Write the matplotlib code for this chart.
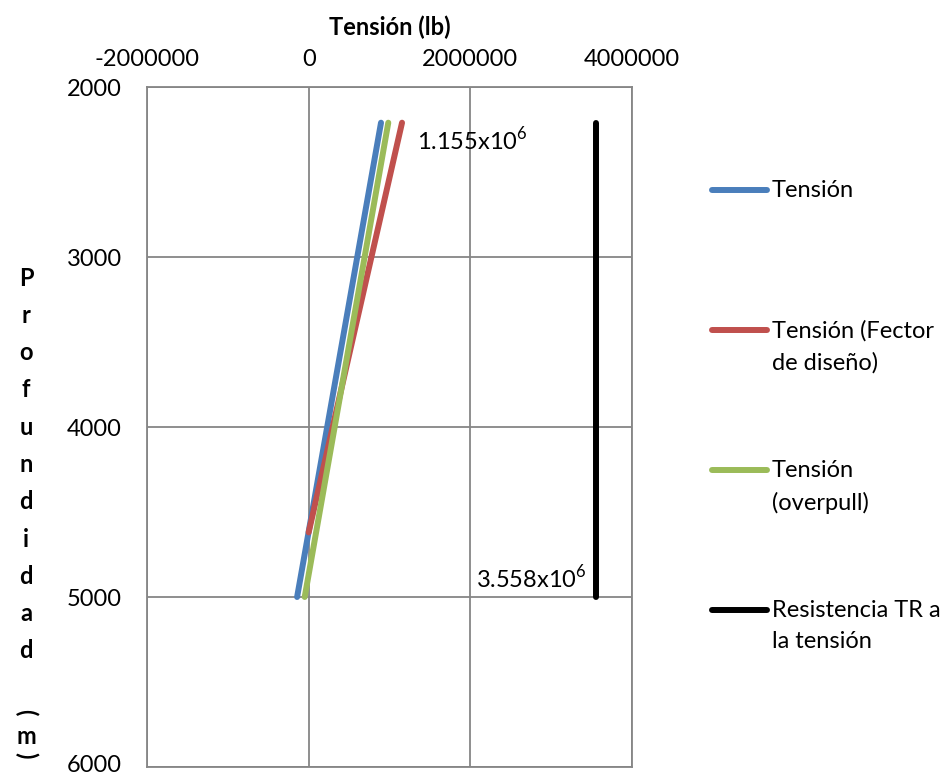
import matplotlib
matplotlib.use("Agg")
import matplotlib.pyplot as plt
import matplotlib.transforms as mtransforms
from matplotlib.lines import Line2D

BLUE, RED, GREEN, BLACK, GRID = "#4A7EBB", "#C0504D", "#9BBB59", "#000000", "#868686"
plt.rcParams.update({"font.family": ["Lato", "DejaVu Sans"], "font.size": 17,
                     "mathtext.fontset": "custom", "mathtext.rm": "Lato"})

# data (depth in m, tension in lb)
tension_x = [-143000, 895000]
tension_y = [5000, 2210]
design_x = [0, 1155000]
design_y = [4620, 2210]
overpull_x = [-49000, 985000]
overpull_y = [5000, 2210]
resist_x = [3558000, 3558000]
resist_y = [5000, 2210]

labels = ["Tensión", "Tensión (Fector\nde diseño)", "Tensión\n(overpull)",
          "Resistencia TR a\nla tensión"]
colors = [BLUE, RED, GREEN, BLACK]
xticks = [-2000000, 0, 2000000, 4000000]
yticks = [2000, 3000, 4000, 5000, 6000]

fig = plt.figure(figsize=(9.46, 7.76), dpi=100)
ax = fig.add_axes([147 / 946, 1 - 767 / 776, (632 - 147) / 946, (767 - 87) / 776])

lw = 4.3
for xs, ys, c in [(tension_x, tension_y, BLUE), (design_x, design_y, RED),
                  (overpull_x, overpull_y, GREEN), (resist_x, resist_y, BLACK)]:
    ax.plot(xs, ys, color=c, lw=lw, solid_capstyle="round", zorder=3)

ax.set_xlim(xticks[0], xticks[-1])
ax.set_ylim(yticks[-1], yticks[0])
ax.set_xticks(xticks)
ax.set_yticks(yticks)
ax.set_xticklabels([str(v) for v in xticks])
ax.xaxis.tick_top()
ax.xaxis.set_label_position("top")
ax.set_xlabel("Tensión (lb)", fontweight="bold", labelpad=10)
ax.tick_params(axis="x", length=0, pad=12)
ax.tick_params(axis="y", length=0, pad=18)
ax.grid(True, color=GRID, lw=1.3)
ax.set_axisbelow(True)
for s in ax.spines.values():
    s.set_color(GRID)
    s.set_linewidth(1.3)

# bottom tick label sits a little higher so it stays inside the picture
lab = ax.get_yticklabels()[-1]
lab.set_transform(lab.get_transform() +
                  mtransforms.ScaledTranslation(0, 4 / 100, fig.dpi_scale_trans))

ax.annotate("1.155x10$^{\\mathrm{6}}$", xy=(design_x[1], design_y[1]),
            xytext=(15, -17), textcoords="offset pixels", ha="left", va="center")
ax.annotate("3.558x10$^{\\mathrm{6}}$", xy=(resist_x[0], resist_y[0]),
            xytext=(-10, 19), textcoords="offset pixels", ha="right", va="center")

# legend, Excel style: handle aligned with first text line
W, H = 946, 776
for i, (lab, c) in enumerate(zip(labels, colors)):
    yy = 190 + 140 * i
    fig.add_artist(Line2D([712 / W, 767 / W], [1 - yy / H] * 2, color=c, lw=lw,
                          solid_capstyle="round"))
    fig.text(772 / W, 1 - (yy - 10) / H, lab, ha="left", va="top", linespacing=1.6)

# stacked y-axis label
letters = list("Profundidad")
for i, ch in enumerate(letters):
    fig.text(26 / W, 1 - (278 + 37.3 * i) / H, ch, ha="center", va="center",
             fontweight="bold")
fig.text(26 / W, 1 - 712 / H, "(", ha="center", va="center", fontweight="bold", rotation=-90)
fig.text(26 / W, 1 - 737 / H, "m", ha="center", va="center", fontweight="bold")
fig.text(26 / W, 1 - 755 / H, ")", ha="center", va="center", fontweight="bold", rotation=-90)

fig.savefig("out.png", dpi=100)
